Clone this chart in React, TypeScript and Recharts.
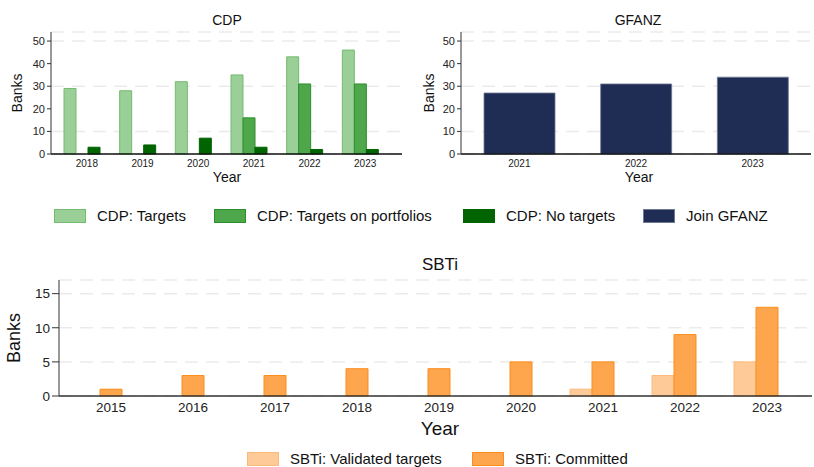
import { Bar, BarChart, CartesianGrid, XAxis, YAxis } from "recharts";

const cdpYears = ["2018", "2019", "2020", "2021", "2022", "2023"];
const cdpTargets = [29, 28, 32, 35, 43, 46];
const cdpPortfolios = [0, 0, 0, 16, 31, 31];
const cdpNoTargets = [3, 4, 7, 3, 2, 2];
const cdpTicks = [0, 10, 20, 30, 40, 50];

const gfanzYears = ["2021", "2022", "2023"];
const gfanzJoin = [27, 31, 34];

const sbtiYears = ["2015", "2016", "2017", "2018", "2019", "2020", "2021", "2022", "2023"];
const sbtiValidated = [0, 0, 0, 0, 0, 0, 1, 3, 5];
const sbtiCommitted = [1, 3, 3, 4, 4, 5, 5, 9, 13];
const sbtiTicks = [0, 5, 10, 15];

const FONT = "'Liberation Sans', Arial, sans-serif";

const colors = {
  targets: { fill: "#9bcf98", stroke: "#74bb70" },
  portfolios: { fill: "#4ea74b", stroke: "#2a8f2a" },
  noTargets: { fill: "#006400", stroke: "#006400" },
  gfanz: { fill: "#1f2d55", stroke: "#6f7a96" },
  validated: { fill: "#fdca98", stroke: "#fdb97a" },
  committed: { fill: "#fda64e", stroke: "#fd8d1c" },
};

const cdpData = cdpYears.map((year, i) => ({
  year,
  targets: cdpTargets[i],
  portfolios: cdpPortfolios[i],
  noTargets: cdpNoTargets[i],
}));
const gfanzData = gfanzYears.map((year, i) => ({ year, join: gfanzJoin[i] }));
const sbtiData = sbtiYears.map((year, i) => ({
  year,
  validated: sbtiValidated[i],
  committed: sbtiCommitted[i],
}));

function Text({ x, y, size, rotate, children }: { x: number; y: number; size: number; rotate?: boolean; children: string }) {
  return (
    <div
      style={{
        position: "absolute",
        left: x,
        top: y,
        transform: `translate(-50%, -50%)${rotate ? " rotate(-90deg)" : ""}`,
        fontSize: size,
        fontFamily: FONT,
        color: "#111",
        whiteSpace: "nowrap",
        lineHeight: 1,
      }}
    >
      {children}
    </div>
  );
}

function Swatch({ x, y, label, c }: { x: number; y: number; label: string; c: { fill: string; stroke: string } }) {
  return (
    <>
      <div
        style={{
          position: "absolute",
          left: x,
          top: y,
          width: 30,
          height: 12,
          background: c.fill,
          border: `1px solid ${c.stroke}`,
        }}
      />
      <div
        style={{
          position: "absolute",
          left: x + 43,
          top: y - 2,
          fontSize: 15,
          fontFamily: FONT,
          color: "#111",
          whiteSpace: "nowrap",
          lineHeight: "17px",
        }}
      >
        {label}
      </div>
    </>
  );
}

const grid = <CartesianGrid vertical={false} stroke="#ebebeb" strokeWidth={1.5} strokeDasharray="13 8" />;

export default function App() {
  return (
    <div style={{ position: "absolute", left: 0, top: 0, width: 814, height: 467, background: "#fff", overflow: "hidden" }}>
      <div style={{ position: "absolute", left: 0, top: 0 }}>
        <BarChart width={410} height={190} data={cdpData} margin={{ top: 32, right: 8, bottom: 0, left: 21 }} barGap={0}>
          {grid}
          <XAxis
            dataKey="year"
            height={36}
            tickLine={false}
            tickSize={4}
            padding={{ left: 3, right: 14 }}
            axisLine={{ stroke: "#111", strokeWidth: 1.5 }}
            tick={{ fontSize: 10, fill: "#222", fontFamily: FONT, dx: 5 }}
          />
          <YAxis
            width={30}
            domain={[0, 54]}
            ticks={cdpTicks}
            tickSize={4}
            axisLine={{ stroke: "#333" }}
            tickLine={{ stroke: "#333" }}
            tick={{ fontSize: 11, fill: "#222", fontFamily: FONT }}
          />
          <Bar dataKey="targets" barSize={12} fill={colors.targets.fill} stroke={colors.targets.stroke} isAnimationActive={false} />
          <Bar dataKey="portfolios" barSize={12} fill={colors.portfolios.fill} stroke={colors.portfolios.stroke} isAnimationActive={false} />
          <Bar dataKey="noTargets" barSize={12} fill={colors.noTargets.fill} stroke={colors.noTargets.stroke} isAnimationActive={false} />
        </BarChart>
      </div>
      <div style={{ position: "absolute", left: 410, top: 0 }}>
        <BarChart width={404} height={190} data={gfanzData} margin={{ top: 32, right: 3, bottom: 0, left: 21 }}>
          {grid}
          <XAxis
            dataKey="year"
            height={36}
            tickLine={false}
            tickSize={4}
            axisLine={{ stroke: "#111", strokeWidth: 1.5 }}
            tick={{ fontSize: 10, fill: "#222", fontFamily: FONT }}
          />
          <YAxis
            width={30}
            domain={[0, 54]}
            ticks={cdpTicks}
            tickSize={4}
            axisLine={{ stroke: "#333" }}
            tickLine={{ stroke: "#333" }}
            tick={{ fontSize: 11, fill: "#222", fontFamily: FONT }}
          />
          <Bar dataKey="join" barSize={71} fill={colors.gfanz.fill} stroke={colors.gfanz.stroke} strokeWidth={0.8} isAnimationActive={false} />
        </BarChart>
      </div>
      <div style={{ position: "absolute", left: 0, top: 250 }}>
        <BarChart width={814} height={217} data={sbtiData} margin={{ top: 30, right: 2, bottom: 41, left: 24 }} barGap={0}>
          <CartesianGrid vertical={false} stroke="#ebebeb" strokeWidth={1.5} strokeDasharray="13 8" />
          <XAxis
            dataKey="year"
            height={30}
            tickLine={false}
            tickSize={4}
            padding={{ left: 0, right: 15 }}
            axisLine={{ stroke: "#333", strokeWidth: 1.5 }}
            tick={{ fontSize: 13.5, fill: "#222", fontFamily: FONT, dx: 11 }}
          />
          <YAxis
            width={35}
            domain={[0, 17]}
            ticks={sbtiTicks}
            tickSize={7}
            axisLine={{ stroke: "#333" }}
            tickLine={{ stroke: "#333" }}
            tick={{ fontSize: 13.5, fill: "#222", fontFamily: FONT }}
          />
          <Bar dataKey="validated" barSize={22} fill={colors.validated.fill} stroke={colors.validated.stroke} isAnimationActive={false} />
          <Bar dataKey="committed" barSize={22} fill={colors.committed.fill} stroke={colors.committed.stroke} isAnimationActive={false} />
        </BarChart>
      </div>

      <Text x={227} y={20} size={14}>CDP</Text>
      <Text x={638} y={20} size={14}>GFANZ</Text>
      <Text x={440} y={264} size={17}>SBTi</Text>

      <Text x={17} y={93} size={14} rotate>Banks</Text>
      <Text x={429} y={93} size={14} rotate>Banks</Text>
      <Text x={14} y={338} size={18} rotate>Banks</Text>

      <Text x={227} y={177} size={14}>Year</Text>
      <Text x={639} y={177} size={14}>Year</Text>
      <Text x={440} y={428} size={19}>Year</Text>

      <Swatch x={54} y={209} label="CDP: Targets" c={colors.targets} />
      <Swatch x={214} y={209} label="CDP: Targets on portfolios" c={colors.portfolios} />
      <Swatch x={463} y={209} label="CDP: No targets" c={colors.noTargets} />
      <Swatch x={643} y={209} label="Join GFANZ" c={colors.gfanz} />

      <Swatch x={247} y={452} label="SBTi: Validated targets" c={colors.validated} />
      <Swatch x={472} y={452} label="SBTi: Committed" c={colors.committed} />
    </div>
  );
}
